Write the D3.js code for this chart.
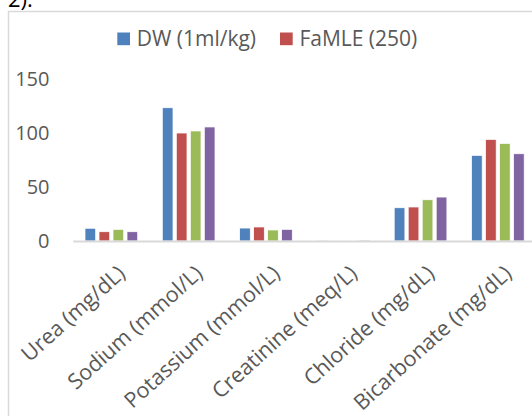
<!DOCTYPE html>
<html>
<head>
<meta charset="utf-8">
<script src="https://d3js.org/d3.v7.min.js"></script>
<style>
  html, body { margin: 0; padding: 0; background: #fff; overflow: hidden; }
  svg { display: block; }
  text { font-family: "Open Sans", Lato, sans-serif; }
</style>
</head>
<body>
<script>
const categories = ["Urea (mg/dL)", "Sodium (mmol/L)", "Potassium (mmol/L)", "Creatinine (meq/L)", "Chloride (mg/dL)", "Bicarbonate (mg/dL)"];
const seriesNames = ["DW (1ml/kg)", "FaMLE (250)", "Series 3", "Series 4"];
const legendNames = ["DW (1ml/kg)", "FaMLE (250)"];
const dwValues    = [11.8, 123.4, 12.0, 0.8, 30.8, 79.3];
const famle250    = [8.6, 100.0, 13.0, 0.6, 31.5, 94.1];
const series3     = [10.8, 101.9, 10.2, 0.6, 38.2, 90.4];
const series4     = [8.6, 105.6, 10.8, 0.9, 40.7, 80.8];
const yTicks      = [0, 50, 100, 150];
const colors      = ["#4f81bd", "#c0504d", "#9bbb59", "#8064a2"];

const allSeries = [dwValues, famle250, series3, series4];

const W = 532, H = 416;
const svg = d3.select("body").append("svg").attr("width", W).attr("height", H);

// figure caption fragment at top (cut off by the page edge, as in the reference)
svg.append("text").attr("x", 8).attr("y", 7).attr("font-size", 22).attr("fill", "#000")
  .text("2).");

// chart border
svg.append("rect").attr("x", 8.5).attr("y", 11.5).attr("width", 600).attr("height", 600)
  .attr("fill", "none").attr("stroke", "#d9d9d9").attr("stroke-width", 1.5);

const x0 = d3.scaleBand().domain(categories).range([72.7, 72.7 + 6 * 77.3]).padding(0);
const x1 = d3.scaleBand().domain(d3.range(4)).range([12.3, 77.3 - 12.3]).paddingInner(0.236).paddingOuter(0);
const y = d3.scaleLinear().domain([0, 150]).range([241, 79]);

// y axis labels
const yAxis = d3.axisLeft(y).tickValues(yTicks).tickSize(0).tickPadding(0);
const yg = svg.append("g").attr("transform", "translate(49.5,0)").call(yAxis);
yg.select(".domain").remove();
yg.selectAll("text").attr("font-size", 20).attr("fill", "#595959")
  .style("font-family", "'Open Sans', Lato, sans-serif");

// bars
const groups = svg.append("g").selectAll("g").data(categories).join("g")
  .attr("transform", d => `translate(${x0(d)},0)`);
groups.selectAll("rect").data((d, i) => allSeries.map((s, k) => ({k, v: s[i]}))).join("rect")
  .attr("x", d => x1(d.k))
  .attr("width", x1.bandwidth())
  .attr("y", d => y(d.v))
  .attr("height", d => y(0) - y(d.v))
  .attr("fill", d => colors[d.k])
  .attr("stroke", "#fff").attr("stroke-width", 0.75);

// x axis line
const xAxis = d3.axisBottom(x0).tickSize(0).tickFormat("");
const xg = svg.append("g").attr("transform", `translate(0,${y(0)})`).call(xAxis);
xg.select(".domain").attr("stroke", "#d9d9d9").attr("stroke-width", 2);

// category labels
svg.append("g").selectAll("text").data(categories).join("text")
  .attr("transform", d => `translate(${x0(d) + x0.bandwidth() / 2 + 5},${y(0) + 23}) rotate(-42)`)
  .attr("text-anchor", "end")
  .attr("dy", "0.71em")
  .attr("font-size", 21.5)
  .attr("fill", "#595959")
  .text(d => d);

// legend
const leg = svg.append("g");
const legX = [117.3, 280];
legendNames.forEach((n, i) => {
  leg.append("rect").attr("x", legX[i]).attr("y", 32.5).attr("width", 12.7).attr("height", 12.7).attr("fill", colors[i]);
  leg.append("text").attr("x", legX[i] + 19.4).attr("y", 39).attr("dy", "0.35em")
    .attr("font-size", 21).attr("fill", "#595959").text(n);
});
</script>
</body>
</html>
